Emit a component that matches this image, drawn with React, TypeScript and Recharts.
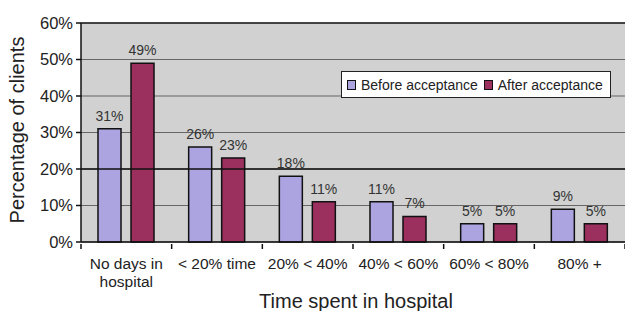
import { Bar, BarChart, CartesianGrid, LabelList, ReferenceLine, Text, XAxis, YAxis } from "recharts"

const categories = ["No days in hospital", "< 20% time", "20% < 40%", "40% < 60%", "60% < 80%", "80% +"]
const beforeValues = [31, 26, 18, 11, 5, 9]
const afterValues = [49, 23, 11, 7, 5, 5]
const seriesNames = ["Before acceptance", "After acceptance"]
const yTicks = [0, 10, 20, 30, 40, 50, 60]

const colors = ["#aba4e0", "#9b2f5e"]
const font = "'Liberation Sans', Arial, sans-serif"

const W = 625
const H = 311
const LEFT = 81
const band = (W - LEFT) / categories.length

const data = categories.map((name, i) => ({ name, before: beforeValues[i], after: afterValues[i] }))

// category label + the tick marks sitting on the band edges
function CategoryTick({ x, y, payload, index }: any) {
    const half = band / 2
    return (
        <g>
            <line x1={x - half} x2={x - half} y1={y} y2={y + 5} stroke="#111" strokeWidth={1.5} />
            {index === categories.length - 1 && (
                <line x1={x + half} x2={x + half} y1={y} y2={y + 5} stroke="#111" strokeWidth={1.5} />
            )}
            <Text
                x={x}
                y={y + 14}
                width={84}
                textAnchor="middle"
                verticalAnchor="start"
                lineHeight={18}
                fontSize={15.5}
                fontFamily={font}
                fill="#222"
            >
                {payload.value}
            </Text>
        </g>
    )
}

export default function App() {
    return (
        <div style={{ position: "absolute", left: 0, top: 0, width: W, height: H, background: "#fff", fontFamily: font }}>
            <BarChart
                width={W}
                height={H}
                data={data}
                margin={{ top: 23, right: 0, bottom: 0, left: 0 }}
                barCategoryGap={17}
                barGap={10}
            >
                <CartesianGrid vertical={false} fill="#d0d1d0" stroke="#666" strokeWidth={1.2} />
                <XAxis
                    dataKey="name"
                    axisLine={{ stroke: "#111", strokeWidth: 1.5 }}
                    tickLine={false}
                    tickSize={0}
                    height={69}
                    interval={0}
                    tick={<CategoryTick />}
                />
                <YAxis
                    width={LEFT}
                    domain={[0, 60]}
                    ticks={yTicks}
                    tickFormatter={(v) => `${v}%`}
                    tickSize={5}
                    tickMargin={3}
                    stroke="#111"
                    strokeWidth={1.5}
                    tick={{ fontSize: 16.5, fill: "#222", fontFamily: font }}
                />
                <ReferenceLine y={20} stroke="#111" strokeWidth={1.5} />
                <ReferenceLine y={60} stroke="#222" strokeWidth={1.5} />
                <Bar dataKey="before" name={seriesNames[0]} fill={colors[0]} stroke="#111" strokeWidth={1.5} barSize={23} isAnimationActive={false}>
                    <LabelList dataKey="before" position="top" offset={8} formatter={(v: any) => `${v}%`} fontSize={14} fill="#333" fontFamily={font} />
                </Bar>
                <Bar dataKey="after" name={seriesNames[1]} fill={colors[1]} stroke="#111" strokeWidth={1.5} barSize={23} isAnimationActive={false}>
                    <LabelList dataKey="after" position="top" offset={8} formatter={(v: any) => `${v}%`} fontSize={14} fill="#333" fontFamily={font} />
                </Bar>
            </BarChart>
            <svg width={W} height={H} style={{ position: "absolute", left: 0, top: 0, pointerEvents: "none" }}>
                <text x={356} y={301} textAnchor="middle" dominantBaseline="central" fontSize={20} fontFamily={font} fill="#222">
                    Time spent in hospital
                </text>
                <text
                    x={17}
                    y={130}
                    transform="rotate(-90 17 130)"
                    textAnchor="middle"
                    dominantBaseline="central"
                    fontSize={20}
                    fontFamily={font}
                    fill="#222"
                >
                    Percentage of clients
                </text>
            </svg>
            <div
                style={{
                    position: "absolute",
                    left: 341,
                    top: 71,
                    width: 268,
                    height: 25,
                    background: "#fff",
                    border: "1px solid #222",
                    display: "flex",
                    alignItems: "center",
                    fontSize: 14,
                    color: "#222",
                    whiteSpace: "nowrap",
                }}
            >
                {seriesNames.map((n, i) => (
                    <div key={n} style={{ display: "flex", alignItems: "center", marginLeft: i === 0 ? 5 : 6 }}>
                        <span style={{ display: "inline-block", width: 7, height: 8, background: colors[i], border: "1px solid #111", marginRight: 5 }} />
                        {n}
                    </div>
                ))}
            </div>
        </div>
    )
}
